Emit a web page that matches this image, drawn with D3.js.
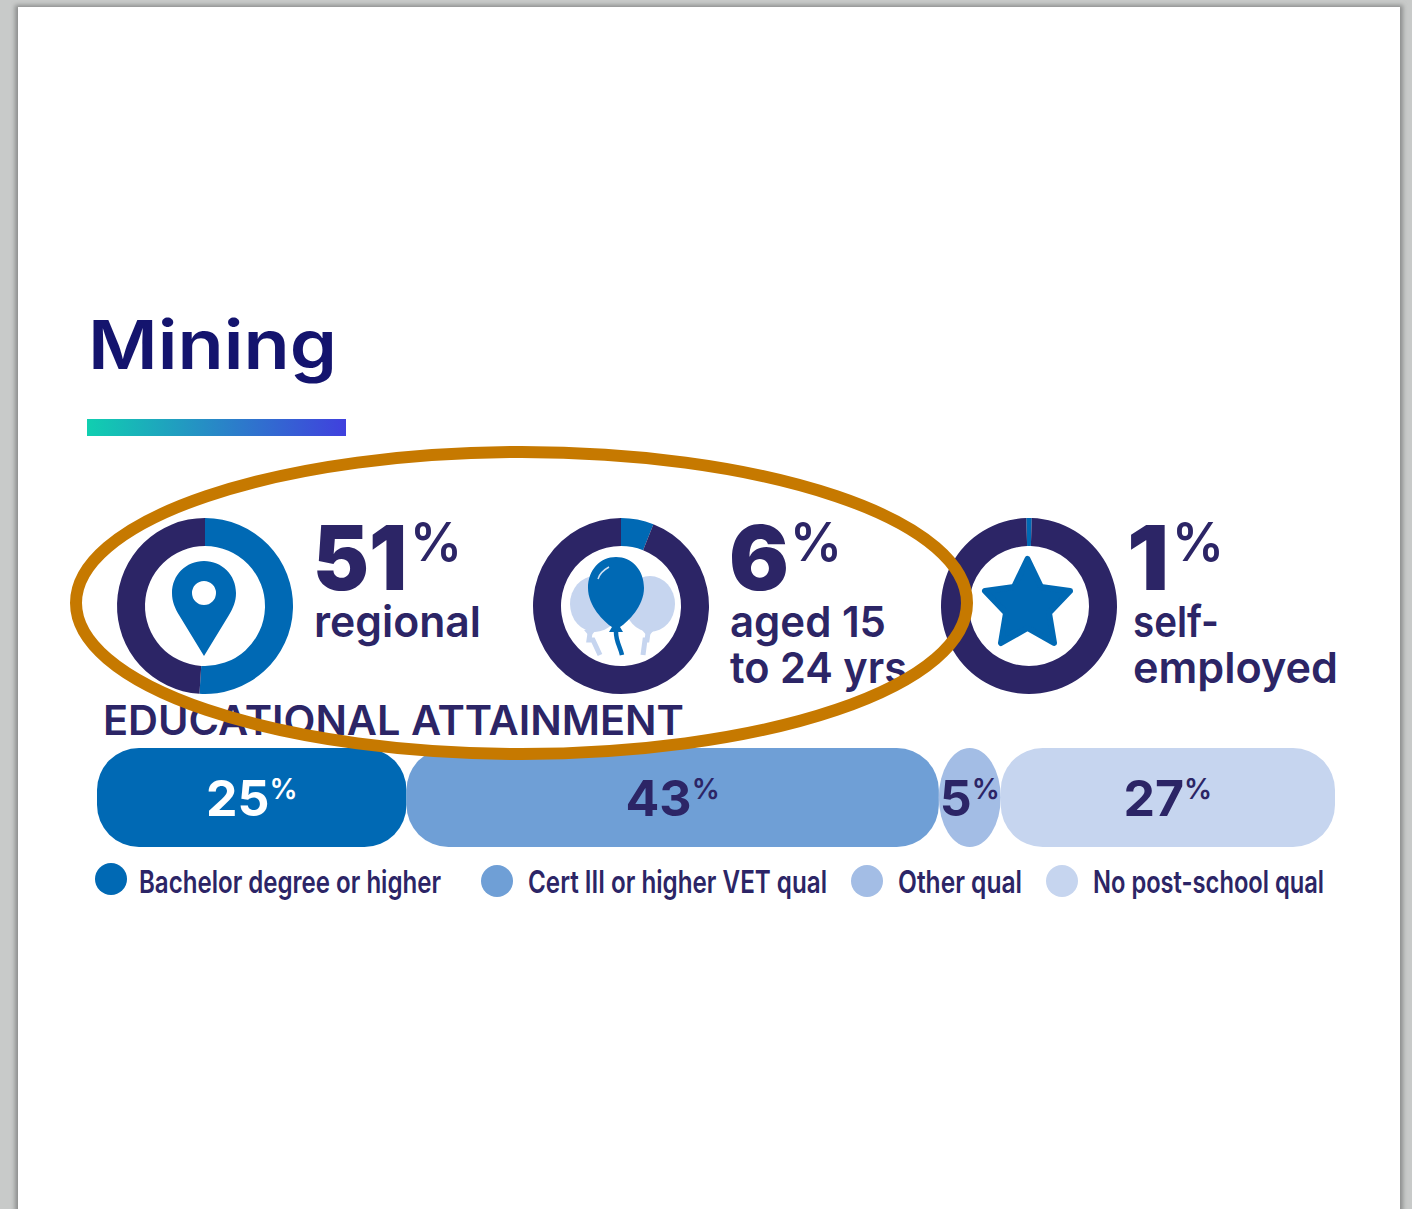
<!DOCTYPE html>
<html lang="en">
<head>
<meta charset="utf-8">
<title>Mining</title>
<script src="https://cdn.jsdelivr.net/npm/d3@7/dist/d3.min.js"></script>
<style>
  html, body { margin: 0; padding: 0; background: #c8cac9; overflow: hidden; }
  svg { display: block; }
  text { font-family: Inter, "Open Sans", sans-serif; fill: #2c2566; }
</style>
</head>
<body>
<script>
// Headline shares shown as rings
const ringValues = [51, 6, 1];
const ringCaptions = [["regional"], ["aged 15", "to 24 yrs"], ["self-", "employed"]];

// Educational attainment shares
const eduCategories = ["Bachelor degree or higher", "Cert III or higher VET qual", "Other qual", "No post-school qual"];
const eduValues = [25, 43, 5, 27];
const eduColors = ["#0069b4", "#6f9fd6", "#a3bde5", "#c6d5ef"];

const navy = "#2c2566", blue = "#0069b4", pale = "#c6d5ef";
const width = 1412, height = 1209;

const svg = d3.select("body").append("svg").attr("width", width).attr("height", height);
const defs = svg.append("defs");

const fade = defs.append("linearGradient").attr("id", "rule");
fade.append("stop").attr("offset", "0%").attr("stop-color", "#10cfb0");
fade.append("stop").attr("offset", "100%").attr("stop-color", "#4040de");
defs.append("filter").attr("id", "soft").append("feGaussianBlur").attr("stdDeviation", 2.2);

// Sheet of paper on the viewer background
svg.append("rect").attr("x", 15).attr("y", 5).attr("width", 1388).attr("height", 1300)
  .attr("fill", "#8d8f8e").attr("filter", "url(#soft)");
svg.append("rect").attr("x", 18).attr("y", 7).attr("width", 1382).attr("height", 1300).attr("fill", "#fff");

// Title block
svg.append("text").attr("x", 88).attr("y", 369).attr("textLength", 249).attr("lengthAdjust", "spacingAndGlyphs")
  .attr("font-size", 68).attr("font-weight", 600).style("fill", "#14146e").text("Mining");
svg.append("rect").attr("x", 87).attr("y", 419).attr("width", 259).attr("height", 17).attr("fill", "url(#rule)");

// Rings
const ringLayout = [
  { cx: 205, textX: 313, numLen: 94, pctX: 410, capLen: [167] },
  { cx: 621, textX: 729, numLen: 60, pctX: 790, capLen: [156, 177] },
  { cx: 1029, textX: 1127, numLen: 42, pctX: 1172, capLen: [86, 205] }
];
const ringTurn = [0, 0, -Math.PI / 100];
const ringY = 606;
const arc = d3.arc().innerRadius(60).outerRadius(88);

ringValues.forEach((v, i) => {
  const L = ringLayout[i];
  const pie = d3.pie().sort(null).startAngle(ringTurn[i]).endAngle(ringTurn[i] + 2 * Math.PI);
  const g = svg.append("g").attr("transform", `translate(${L.cx},${ringY})`);
  g.selectAll("path").data(pie([v, 100 - v])).join("path")
    .attr("d", arc).attr("fill", (d, j) => j === 0 ? blue : navy);

  svg.append("text").attr("x", L.textX).attr("y", 590).attr("textLength", L.numLen).attr("lengthAdjust", "spacingAndGlyphs")
    .attr("font-size", 89).attr("font-weight", 900).text(v);
  svg.append("text").attr("x", L.pctX).attr("y", 561).attr("textLength", 52).attr("lengthAdjust", "spacingAndGlyphs")
    .attr("font-size", 54).attr("font-weight", 600).text("%");
  ringCaptions[i].forEach((line, k) => {
    svg.append("text").attr("x", L.textX + (i === 2 ? 6 : 1)).attr("y", 637 + k * 46)
      .attr("textLength", L.capLen[k]).attr("lengthAdjust", "spacingAndGlyphs")
      .attr("font-size", 43).attr("font-weight", 600).text(line);
  });
});

// Location pin
svg.append("path").attr("fill", blue).attr("fill-rule", "evenodd")
  .attr("d", "M204 561C186 561 172 575 172 593C172 602 175 608 179 615L204 656L229 615C233 608 236 602 236 593C236 575 222 561 204 561Z" +
             "M204 581A12 12 0 1 1 204 605A12 12 0 1 1 204 581Z");

// Balloons
const balloons = svg.append("g");
[[595, 604, 25, 605, 590, "M590 633L589 640L593 640L600 655", 5],
 [650, 604, 25, 605, 648, "M648 633L647 640L645 640L643 655", 5]].forEach(b => {
  balloons.append("ellipse").attr("cx", b[0]).attr("cy", b[1]).attr("rx", b[2]).attr("ry", 28).attr("fill", pale);
  balloons.append("path").attr("d", `M${b[4] - 6} 630L${b[4] + 6} 630L${b[4]} 637Z`).attr("fill", pale);
  balloons.append("path").attr("d", b[5]).attr("fill", "none").attr("stroke", pale).attr("stroke-width", b[6]);
});
balloons.append("path").attr("fill", blue)
  .attr("d", "M616 557C600 557 588 570 588 588C588 606 604 622 612 627L609 632L623 632L620 627C628 622 644 606 644 588C644 570 632 557 616 557Z");
balloons.append("path").attr("d", "M616 632C616 642 620 646 622 655").attr("fill", "none").attr("stroke", blue).attr("stroke-width", 4.5);
balloons.append("path").attr("d", "M598 579Q600 572 609 567").attr("fill", "none").attr("stroke", "#cfe0f2").attr("stroke-width", 1.5);

// Star
svg.append("path").attr("fill", blue).attr("stroke", blue).attr("stroke-width", 6).attr("stroke-linejoin", "round")
  .attr("d", "M1027.5 559L1041 587L1070 591L1049 613L1054 643L1027.5 628L1001 643L1006 613L985 591L1014 587Z");

// Attainment bar
svg.append("text").attr("x", 103).attr("y", 735).attr("textLength", 581).attr("lengthAdjust", "spacingAndGlyphs")
  .attr("font-size", 41).attr("font-weight", 600).text("EDUCATIONAL ATTAINMENT");

const x = d3.scaleLinear().domain([0, 100]).range([97, 1335]);
const y0 = 748, barH = 99;
const stack = d3.cumsum(eduValues);
const segments = eduValues.map((v, i) => ({ v, start: stack[i] - v, end: stack[i], color: eduColors[i], name: eduCategories[i] }));

const segG = svg.append("g");
segG.selectAll("rect").data(segments).join("rect")
  .attr("x", d => x(d.start)).attr("y", y0)
  .attr("width", d => x(d.end) - x(d.start)).attr("height", barH)
  .attr("rx", d => Math.min(42, (x(d.end) - x(d.start)) / 2))
  .attr("ry", d => (x(d.end) - x(d.start)) < 84 ? barH / 2 : 42)
  .attr("fill", d => d.color);

const barLabels = segG.selectAll("text").data(segments).join("text")
  .attr("x", d => (x(d.start) + x(d.end)) / 2).attr("y", 816).attr("text-anchor", "middle")
  .style("fill", (d, i) => i === 0 ? "#fff" : navy);
barLabels.append("tspan").attr("font-size", 50).attr("font-weight", 700).text(d => d.v);
barLabels.append("tspan").attr("font-size", 28).attr("font-weight", 600).attr("dy", -17).text("%");

// Legend
const legendX = [111, 497, 867, 1062];
const legendY = [879, 881, 881, 881];
const legendTextX = [139, 528, 898, 1093];
const legendTextLen = [302, 299, 124, 231];
const legend = svg.append("g").selectAll("g").data(segments).join("g");
legend.append("circle").attr("cx", (d, i) => legendX[i]).attr("cy", (d, i) => legendY[i]).attr("r", 16).attr("fill", d => d.color);
legend.append("text").attr("x", (d, i) => legendTextX[i]).attr("y", 893)
  .attr("textLength", (d, i) => legendTextLen[i]).attr("lengthAdjust", "spacingAndGlyphs")
  .attr("font-size", 31).attr("font-weight", 600).text(d => d.name);

// Highlight ellipse around the first two rings
svg.append("ellipse").attr("cx", 521.5).attr("cy", 603).attr("rx", 445.5).attr("ry", 151)
  .attr("fill", "none").attr("stroke", "#c67900").attr("stroke-width", 12);
</script>
</body>
</html>
